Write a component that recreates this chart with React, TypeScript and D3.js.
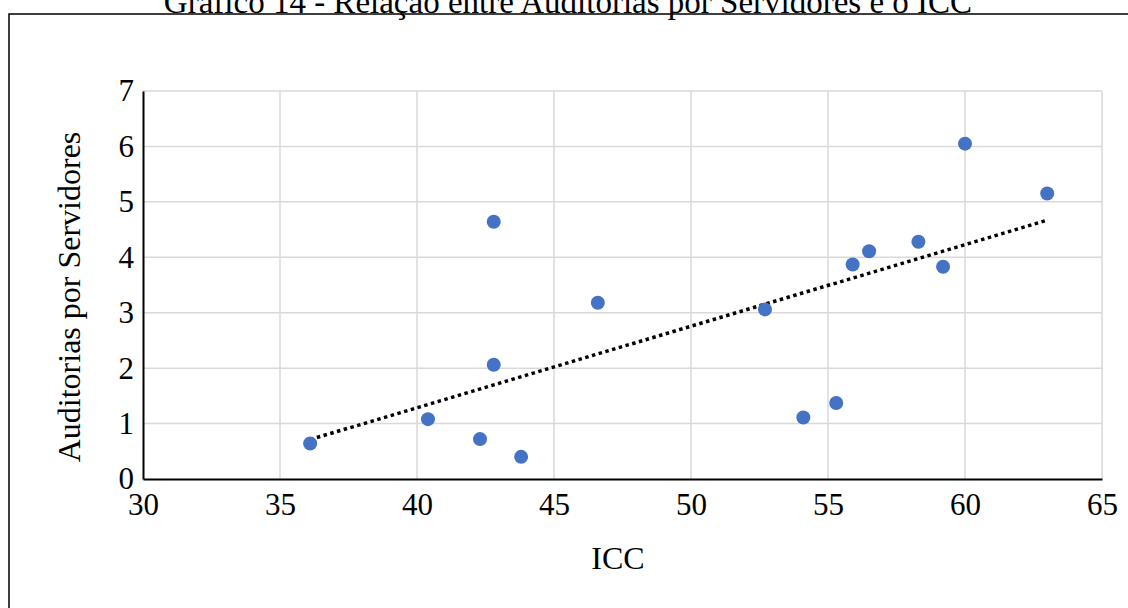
import React, { useEffect, useRef } from 'react';
import * as d3 from 'd3';

// ICC (x) and Auditorias por Servidores (y)
const icc = [36.1, 40.4, 42.3, 42.8, 42.8, 43.8, 46.6, 52.7, 54.1, 55.3, 55.9, 56.5, 58.3, 59.2, 60.0, 63.0];
const auditorias = [0.64, 1.08, 0.72, 4.64, 2.06, 0.4, 3.18, 3.06, 1.11, 1.37, 3.87, 4.11, 4.28, 3.83, 6.05, 5.15];
const xTicks = [30, 35, 40, 45, 50, 55, 60, 65];
const yTicks = [0, 1, 2, 3, 4, 5, 6, 7];

const title = 'Gráfico 14 - Relação entre Auditorias por Servidores e o ICC';
const xLabel = 'ICC';
const yLabel = 'Auditorias por Servidores';

const W = 1128;
const H = 608;
const FONT = '"Liberation Serif", "Times New Roman", serif';

export default function App() {
    const ref = useRef<SVGSVGElement>(null);

    useEffect(() => {
        const svg = d3.select(ref.current);
        svg.selectAll('*').remove();

        const left = 143, right = 1102, top = 91, bottom = 479;

        const x = d3.scaleLinear().domain([30, 65]).range([left, right]);
        const y = d3.scaleLinear().domain([0, 7]).range([bottom, top]);

        // outer frame (runs past the page edge)
        svg.append('rect')
            .attr('x', 9).attr('y', 14)
            .attr('width', 1300).attr('height', 800)
            .attr('fill', 'none')
            .attr('stroke', '#000')
            .attr('stroke-width', 1.5);

        // title, cut by the top edge
        svg.append('text')
            .attr('x', 568).attr('y', 13)
            .attr('text-anchor', 'middle')
            .attr('font-family', FONT)
            .attr('font-size', 33)
            .text(title);

        // grid
        svg.append('g').selectAll('line')
            .data(yTicks.filter(d => d > 0))
            .join('line')
            .attr('x1', left).attr('x2', right)
            .attr('y1', d => y(d)).attr('y2', d => y(d))
            .attr('stroke', '#d9d9d9').attr('stroke-width', 1.5);
        svg.append('g').selectAll('line')
            .data(xTicks.filter(d => d > 30))
            .join('line')
            .attr('x1', d => x(d)).attr('x2', d => x(d))
            .attr('y1', top).attr('y2', bottom)
            .attr('stroke', '#d9d9d9').attr('stroke-width', 1.5);

        // axes
        const xAxis = svg.append('g')
            .attr('transform', `translate(0,${bottom})`)
            .call(d3.axisBottom(x).tickValues(xTicks).tickFormat(d3.format('d')).tickSize(0).tickPadding(14));
        const yAxis = svg.append('g')
            .attr('transform', `translate(${left},0)`)
            .call(d3.axisLeft(y).tickValues(yTicks).tickFormat(d3.format('d')).tickSize(0).tickPadding(9));
        [xAxis, yAxis].forEach(a => {
            a.select('.domain').attr('stroke', '#000').attr('stroke-width', 2);
            a.selectAll('text')
                .attr('font-family', FONT)
                .attr('font-size', 31)
                .attr('fill', '#000');
        });

        // axis titles
        svg.append('text')
            .attr('x', 618).attr('y', 569)
            .attr('text-anchor', 'middle')
            .attr('font-family', FONT)
            .attr('font-size', 32)
            .text(xLabel);
        svg.append('text')
            .attr('transform', `translate(80,297) rotate(-90)`)
            .attr('text-anchor', 'middle')
            .attr('font-family', FONT)
            .attr('font-size', 32)
            .text(yLabel);

        // linear trendline
        const pts = icc.map((v, i) => [v, auditorias[i]] as [number, number]);
        const mx = d3.mean(icc)!;
        const my = d3.mean(auditorias)!;
        const slope = d3.sum(pts, p => (p[0] - mx) * (p[1] - my)) / d3.sum(pts, p => (p[0] - mx) ** 2);
        const b = my - slope * mx;
        const [x0, x1] = d3.extent(icc) as [number, number];
        svg.append('line')
            .attr('x1', x(x0)).attr('y1', y(slope * x0 + b))
            .attr('x2', x(x1)).attr('y2', y(slope * x1 + b))
            .attr('stroke', '#000')
            .attr('stroke-width', 3.5)
            .attr('stroke-dasharray', '3.5,3.5');

        // points
        svg.append('g').selectAll('circle')
            .data(pts)
            .join('circle')
            .attr('cx', d => x(d[0]))
            .attr('cy', d => y(d[1]))
            .attr('r', 7)
            .attr('fill', '#4472c4');
    }, []);

    return (
        <svg ref={ref} width={W} height={H}
            style={{ position: 'absolute', left: 0, top: 0, background: '#fff' }} />
    );
}
